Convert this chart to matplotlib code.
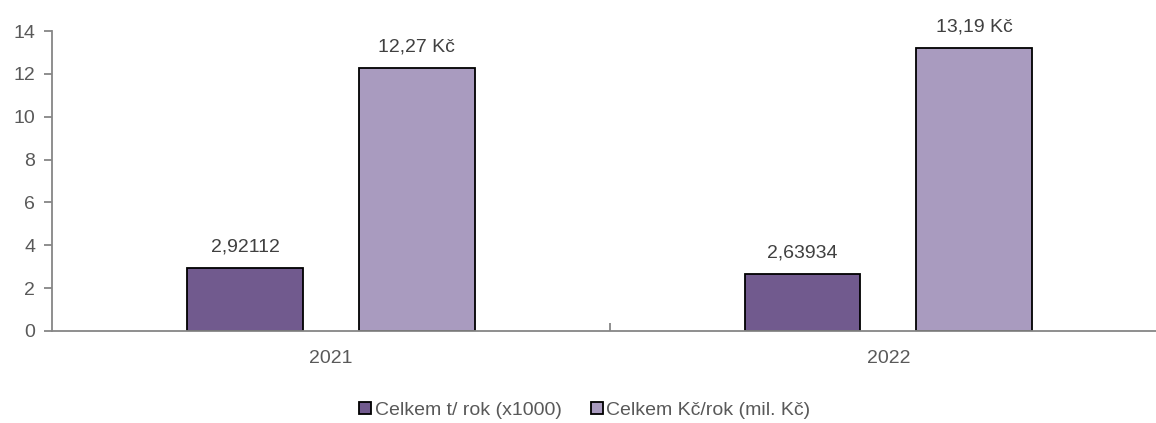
import matplotlib
matplotlib.use('Agg')
import matplotlib.pyplot as plt
import matplotlib.font_manager as fm
import numpy as np

names = {f.name for f in fm.fontManager.ttflist}
if 'Liberation Sans Narrow' in names:
    plt.rcParams['font.family'] = ['Liberation Sans Narrow', 'DejaVu Sans']
    fs = 16.5
else:
    plt.rcParams['font.family'] = ['Liberation Sans', 'DejaVu Sans']
    fs = 14

# data
years = ['2021', '2022']
tons = [2.92112, 2.63934]
money = [12.27, 13.19]
tons_labels = ['2,92112', '2,63934']
money_labels = ['12,27 Kč', '13,19 Kč']
series_names = ['Celkem t/ rok (x1000)', 'Celkem Kč/rok (mil. Kč)']

dark = '#715a8e'
light = '#a99bbf'
grey = '#595959'
axis_col = '#868686'

fig = plt.figure(figsize=(11.56, 4.23), dpi=100)
ax = fig.add_axes([0.045, 0.2175, 0.955, 0.7092])

x = np.arange(len(years))
w = 0.208
off = 0.154
b1 = ax.bar(x - off, tons, w, color=dark, edgecolor='black', linewidth=1.3, label=series_names[0])
b2 = ax.bar(x + off, money, w, color=light, edgecolor='black', linewidth=1.3, label=series_names[1])

for bars, labs in [(b1, tons_labels), (b2, money_labels)]:
    for rect, lab in zip(bars, labs):
        ax.annotate(lab, (rect.get_x() + rect.get_width() / 2, rect.get_height()),
                    xytext=(0, 9), textcoords='offset points', ha='center', va='bottom',
                    fontsize=fs, color='#404040')

ax.set_ylim(0, 14)
ax.set_yticks(range(0, 15, 2))
ax.set_xlim(-0.5, 1.48)
ax.set_xticks(x)
ax.set_xticklabels(years)
ax.set_xticks([0.5], minor=True)
ax.tick_params(axis='x', which='major', length=0, pad=14, labelsize=fs, labelcolor=grey)
ax.tick_params(axis='x', which='minor', length=6, direction='in', color=axis_col, width=1.3)
ax.tick_params(axis='y', length=6, color=axis_col, width=1.3, labelsize=fs, labelcolor=grey, pad=6)

for s in ['top', 'right']:
    ax.spines[s].set_visible(False)
for s in ['left', 'bottom']:
    ax.spines[s].set_color(axis_col)
    ax.spines[s].set_linewidth(1.3)

leg = fig.legend(handles=[b1, b2], labels=series_names, loc='center',
                 bbox_to_anchor=(0.506, 0.03), ncol=2, frameon=False,
                 fontsize=fs, handlelength=0.6, handleheight=0.6,
                 handletextpad=0.2, columnspacing=1.5)
for t in leg.get_texts():
    t.set_color(grey)

fig.savefig('out.png', dpi=100)
